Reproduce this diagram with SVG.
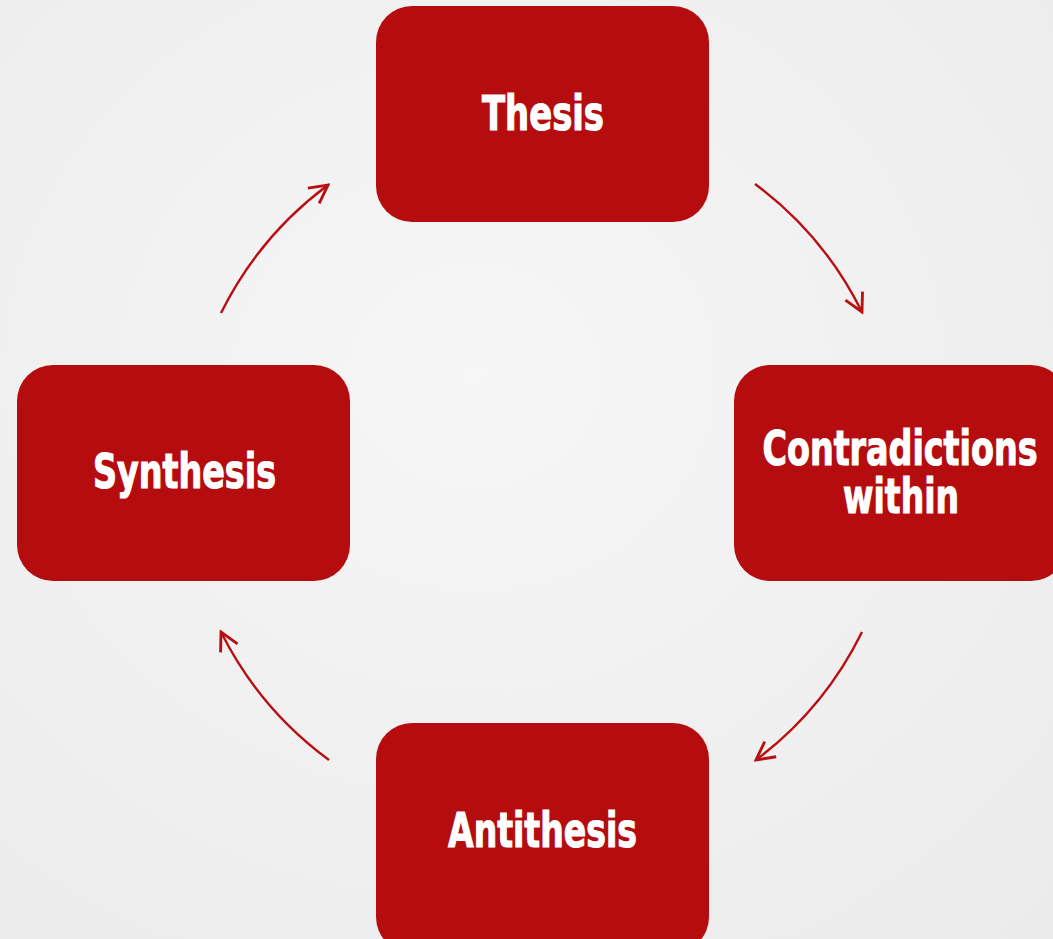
<svg xmlns="http://www.w3.org/2000/svg" width="1053" height="939" viewBox="0 0 1053 939">
  <defs>
    <radialGradient id="bg" cx="0.45" cy="0.4" r="0.8">
      <stop offset="0" stop-color="#f6f6f6"/>
      <stop offset="1" stop-color="#ebebeb"/>
    </radialGradient>
    <marker id="arrow" viewBox="0 0 12 12" refX="10.5" refY="6" markerWidth="9.5" markerHeight="9.5" markerUnits="strokeWidth" orient="auto">
      <path d="M1,1 L10.5,6 L1,11" fill="none" stroke="#b80f12" stroke-width="1.5"/>
    </marker>
    <style>
      .box { fill: #b50d0f; }
      .lbl { font-family: "DejaVu Sans Condensed", "Liberation Sans", sans-serif; font-weight: bold; font-size: 36px; fill: #ffffff; stroke: #ffffff; stroke-width: 0.8; text-anchor: middle; }
      .conn { fill: none; stroke: #b80f12; stroke-width: 2.4; marker-end: url(#arrow); }
    </style>
  </defs>
  <rect width="1053" height="939" fill="url(#bg)"/>

  <g id="node-thesis">
    <rect class="box" x="376" y="6" width="333" height="216" rx="36"/>
    <text class="lbl" transform="translate(543,130) scale(1,1.33)" x="0" y="0" textLength="122" lengthAdjust="spacingAndGlyphs">Thesis</text>
  </g>
  <g id="node-contradictions">
    <rect class="box" x="734" y="365" width="333" height="216" rx="36"/>
    <text class="lbl" transform="translate(900,465) scale(1,1.33)" x="0" y="0" textLength="275" lengthAdjust="spacingAndGlyphs">Contradictions</text>
    <text class="lbl" transform="translate(901,513) scale(1,1.33)" x="0" y="0" textLength="116" lengthAdjust="spacingAndGlyphs">within</text>
  </g>
  <g id="node-antithesis">
    <rect class="box" x="376" y="723" width="333" height="230" rx="36"/>
    <text class="lbl" transform="translate(542.5,847) scale(1,1.33)" x="0" y="0" textLength="189" lengthAdjust="spacingAndGlyphs">Antithesis</text>
  </g>
  <g id="node-synthesis">
    <rect class="box" x="17" y="365" width="333" height="216" rx="36"/>
    <text class="lbl" transform="translate(184.5,488) scale(1,1.33)" x="0" y="0" textLength="183" lengthAdjust="spacingAndGlyphs">Synthesis</text>
  </g>

  <g id="connectors">
    <path class="conn" d="M755,184 A357,357 0 0 1 862,312"/>
    <path class="conn" d="M862,632 A357,357 0 0 1 756,760"/>
    <path class="conn" d="M329,760 A357,357 0 0 1 221,632"/>
    <path class="conn" d="M221,313 A357,357 0 0 1 328,185"/>
  </g>
</svg>
